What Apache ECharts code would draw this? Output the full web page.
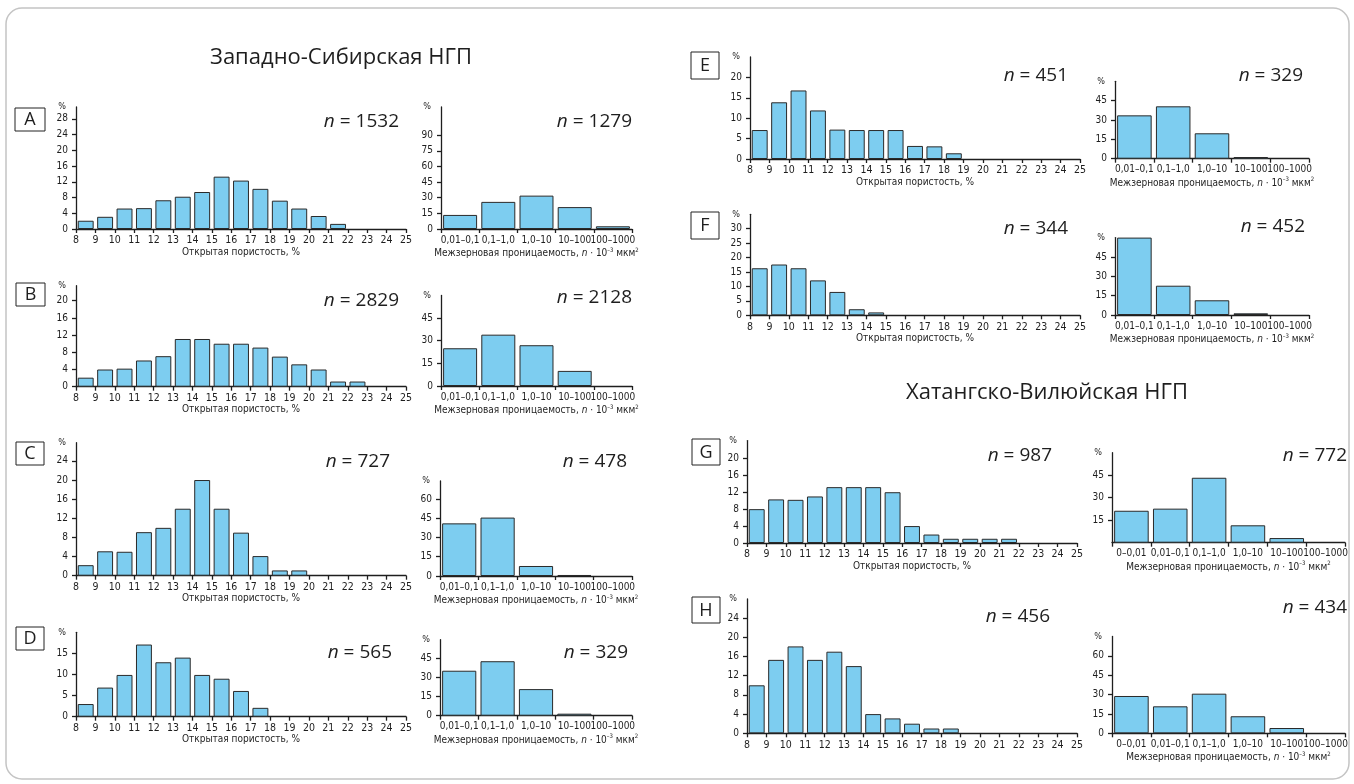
<!DOCTYPE html>
<html><head><meta charset="utf-8">
<script src="https://cdn.jsdelivr.net/npm/echarts@6/dist/echarts.min.js"></script>
<style>html,body{margin:0;padding:0;background:#fff}#c{width:1354px;height:784px}</style>
</head><body><div id="c"></div>
<script>
// ---------- DATA ----------
const porosityTicks = [8,9,10,11,12,13,14,15,16,17,18,19,20,21,22,23,24,25];
const permCats5 = ['0,01–0,1','0,1–1,0','1,0–10','10–100','100–1000'];
const permCats6 = ['0–0,01','0,01–0,1','0,1–1,0','1,0–10','10–100','100–1000'];

const porA = [2.1,3.1,5.2,5.3,7.3,8.2,9.4,13.3,12.3,10.2,7.2,5.2,3.3,1.3,0,0,0];
const porB = [2.1,4,4.2,6.1,7.1,11.1,11.1,10,10,9.1,7,5.2,4,1.2,1.2,0,0];
const porC = [2.2,5.1,5,9.1,10,14,20,14,9,4.1,1.1,1.1,0,0,0,0,0];
const porD = [3,6.9,9.9,17.1,12.9,14,9.9,9,6.1,2.1,0,0,0,0,0,0,0];
const porE = [7.1,13.9,16.8,11.9,7.2,7.1,7.1,7.1,3.2,3.1,1.4,0,0,0,0,0,0];
const porF = [16.3,17.6,16.3,12.1,8.1,2.1,1.0,0,0,0,0,0,0,0,0,0,0];
const porG = [8,10.3,10.2,11,13.2,13.2,13.2,12,4,2,1,1,1,1,0,0,0];
const porH = [10,15.3,18.1,15.3,17,14,4,3.1,2,1,1,0,0,0,0,0,0];

const permA = [13.5,26,32,21,2.6];
const permB = [25,34,27,10,0];
const permC = [41,45.5,7.8,0.8,0];
const permD = [35.5,43,21,1.6,0];
const permE = [33.6,40.6,19.7,1.3,0];
const permF = [60,22.7,11.4,1.3,0];
const permG = [21.3,22.7,43.3,11.6,3.1,0];
const permH = [28.9,20.9,30.7,13.2,4.1,0];

const nPor = {A:1532,B:2829,C:727,D:565,E:451,F:344,G:987,H:456};
const nPerm = {A:1279,B:2128,C:478,D:329,E:329,F:452,G:772,H:434};

const titleWest = 'Западно-Сибирская НГП';
const titleEast = 'Хатангско-Вилюйская НГП';
const porName = 'Открытая пористость, %';

// ---------- STYLE / LAYOUT ----------
const TF = '"DejaVu Sans Condensed","DejaVu Sans",sans-serif';
const HF = '"Open Sans","Noto Sans",sans-serif';
const INK = '#1e1e1e';
const BAR = '#7dcdf0';

const grids=[], xAxis=[], yAxis=[], series=[], graphics=[];
const hideZero = v => (v === 0 ? '-' : v);

function yDef(gi, max, from, to, step){
  const vals=[]; for(let v=from; v<=to+1e-9; v+=step) vals.push(v);
  return {gridIndex:gi, type:'value', min:0, max:max,
    name:'%', nameLocation:'end', nameGap:0,
    nameTextStyle:{fontFamily:TF,fontSize:9,color:INK,align:'right',verticalAlign:'middle',padding:[0,10,0,0]},
    axisLine:{show:true,lineStyle:{color:INK,width:1.3}},
    axisTick:{show:true,length:4,lineStyle:{color:INK,width:1.3},customValues:vals},
    axisLabel:{show:true,customValues:vals,margin:8,fontFamily:TF,fontSize:10,color:INK},
    splitLine:{show:false}};
}
const permNameRich = {
  a:{fontFamily:TF,fontSize:10,color:INK},
  i:{fontFamily:TF,fontSize:10,color:INK,fontStyle:'italic'},
  s:{fontFamily:TF,fontSize:6,color:INK,padding:[0,0,7,0]}
};
const permName = '{a|Межзерновая проницаемость, }{i|n}{a| · 10}{s|–3}{a| мкм}{s|2}';

function addPor(L, data){
  const gi = grids.length;
  grids.push({left:L.left,top:L.top,width:L.width,height:L.height,containLabel:false,outerBoundsMode:'none'});
  xAxis.push({gridIndex:gi,type:'value',min:porosityTicks[0],max:porosityTicks[porosityTicks.length-1],interval:1,
    name:L.showName?porName:'',nameLocation:'middle',nameGap:18,
    nameTextStyle:{fontFamily:TF,fontSize:10,color:INK},
    axisLine:{show:true,onZero:false,lineStyle:{color:INK,width:1.3}},
    axisTick:{show:true,length:4,lineStyle:{color:INK,width:1.3}},
    axisLabel:{show:true,margin:6,fontFamily:TF,fontSize:10.5,color:INK},
    splitLine:{show:false}});
  yAxis.push(yDef(gi,L.max,0,L.labelTo,L.step));
  series.push({type:'bar',xAxisIndex:gi,yAxisIndex:gi,barWidth:L.width/17*0.82,
    itemStyle:{color:BAR,borderColor:'#2a2a2a',borderWidth:1},
    data:data.map((v,i)=>[(porosityTicks[i]+porosityTicks[i+1])/2,hideZero(v)])});
}
function addPerm(L, cats, data){
  const gi = grids.length;
  grids.push({left:L.left,top:L.top,width:L.width,height:L.height,containLabel:false,outerBoundsMode:'none'});
  xAxis.push({gridIndex:gi,type:'category',data:cats,boundaryGap:true,
    name:permName,nameLocation:'middle',nameGap:18,
    nameTextStyle:{rich:permNameRich},
    axisLine:{show:true,onZero:false,lineStyle:{color:INK,width:1.3}},
    axisTick:{show:true,alignWithLabel:false,interval:0,length:4,lineStyle:{color:INK,width:1.3}},
    axisLabel:{show:true,interval:0,margin:6,fontFamily:TF,fontSize:10,color:INK},
    splitLine:{show:false}});
  yAxis.push(yDef(gi,L.max,L.labelFrom||0,L.labelTo,15));
  series.push({type:'bar',xAxisIndex:gi,yAxisIndex:gi,barCategoryGap:'11%',
    itemStyle:{color:BAR,borderColor:'#2a2a2a',borderWidth:1},data:data.map(hideZero)});
}

addPor({left:76,top:107,width:330,height:122,max:31,step:4,labelTo:28,showName:true}, porA);
addPor({left:76,top:285.7,width:330,height:101,max:23.5,step:4,labelTo:20,showName:true}, porB);
addPor({left:76,top:442.7,width:330,height:133,max:27.8,step:4,labelTo:24,showName:true}, porC);
addPor({left:76,top:632.3,width:330,height:84.4,max:20,step:5,labelTo:15,showName:true}, porD);
addPor({left:750,top:57,width:330,height:102,max:25,step:5,labelTo:20,showName:true}, porE);
addPor({left:750,top:214.3,width:330,height:101,max:35,step:5,labelTo:30,showName:true}, porF);
addPor({left:747,top:440.6,width:330,height:102.4,max:24.2,step:4,labelTo:20,showName:true}, porG);
addPor({left:747,top:598.9,width:330,height:134.4,max:28,step:4,labelTo:24,showName:false}, porH);

addPerm({left:441,top:107,width:191,height:122,max:117,labelTo:90}, permCats5, permA);
addPerm({left:441,top:295.4,width:191,height:90.6,max:60,labelTo:45}, permCats5, permB);
addPerm({left:440,top:481,width:192,height:95,max:74,labelTo:60}, permCats5, permC);
addPerm({left:440,top:639.7,width:192,height:76,max:60,labelTo:45}, permCats5, permD);
addPerm({left:1115,top:81.3,width:194,height:77.4,max:60,labelTo:45}, permCats5, permE);
addPerm({left:1115,top:237.6,width:194,height:77.4,max:60,labelTo:45}, permCats5, permF);
addPerm({left:1112,top:452.7,width:233,height:90,max:60,labelFrom:15,labelTo:45}, permCats6, permG);
addPerm({left:1112,top:636.5,width:233,height:96.8,max:75,labelTo:60}, permCats6, permH);

// frame
graphics.push({type:'rect',silent:true,z:-1,shape:{x:6,y:8,width:1343,height:771,r:16},
  style:{fill:'none',stroke:'#c4c4c4',lineWidth:1.5}});
// titles
function txt(x,y,text,size,align){
  graphics.push({type:'text',x:x,y:y,silent:true,style:{text:text,align:align||'center',verticalAlign:'middle',
    fontFamily:HF,fontSize:size,fill:INK}});
}
txt(341,58,titleWest,22);
txt(1047,393,titleEast,22);
// letter boxes
const boxes = [['A',15,108,30,23],['B',16,283,29,23],['C',16,442,28,23],['D',16,627,28,23],
               ['E',691,52,28,27],['F',691,212,28,27],['G',692,439,28,26],['H',692,597,28,26]];
boxes.forEach(b=>{
  graphics.push({type:'rect',silent:true,shape:{x:b[1],y:b[2],width:b[3],height:b[4]},
    style:{fill:'#fff',stroke:'#222',lineWidth:1}});
  txt(b[1]+b[3]/2,b[2]+b[4]/2+0.5,b[0],18);
});
// n labels
function nLabel(x,y,n){
  graphics.push({type:'text',x:x,y:y,silent:true,style:{text:'{i|n}{r| = '+n+'}',align:'right',verticalAlign:'middle',
    rich:{i:{fontFamily:HF,fontSize:19,fontStyle:'italic',fill:INK},r:{fontFamily:HF,fontSize:19,fill:INK}}}});
}
const nPos = {
  A:[[399,122],[632,122]], B:[[399,301],[632,298]], C:[[390,462],[627,462]], D:[[392,653],[628,653]],
  E:[[1068,76],[1303,76]], F:[[1068,229],[1305,227]], G:[[1052,456],[1347,456]], H:[[1050,617],[1347,608]]
};
Object.keys(nPos).forEach(k=>{
  nLabel(nPos[k][0][0],nPos[k][0][1],nPor[k]);
  nLabel(nPos[k][1][0],nPos[k][1][1],nPerm[k]);
});

const chart = echarts.init(document.getElementById('c'));
chart.setOption({animation:false,backgroundColor:'#fff',grid:grids,xAxis:xAxis,yAxis:yAxis,series:series,graphic:graphics});
</script></body></html>
